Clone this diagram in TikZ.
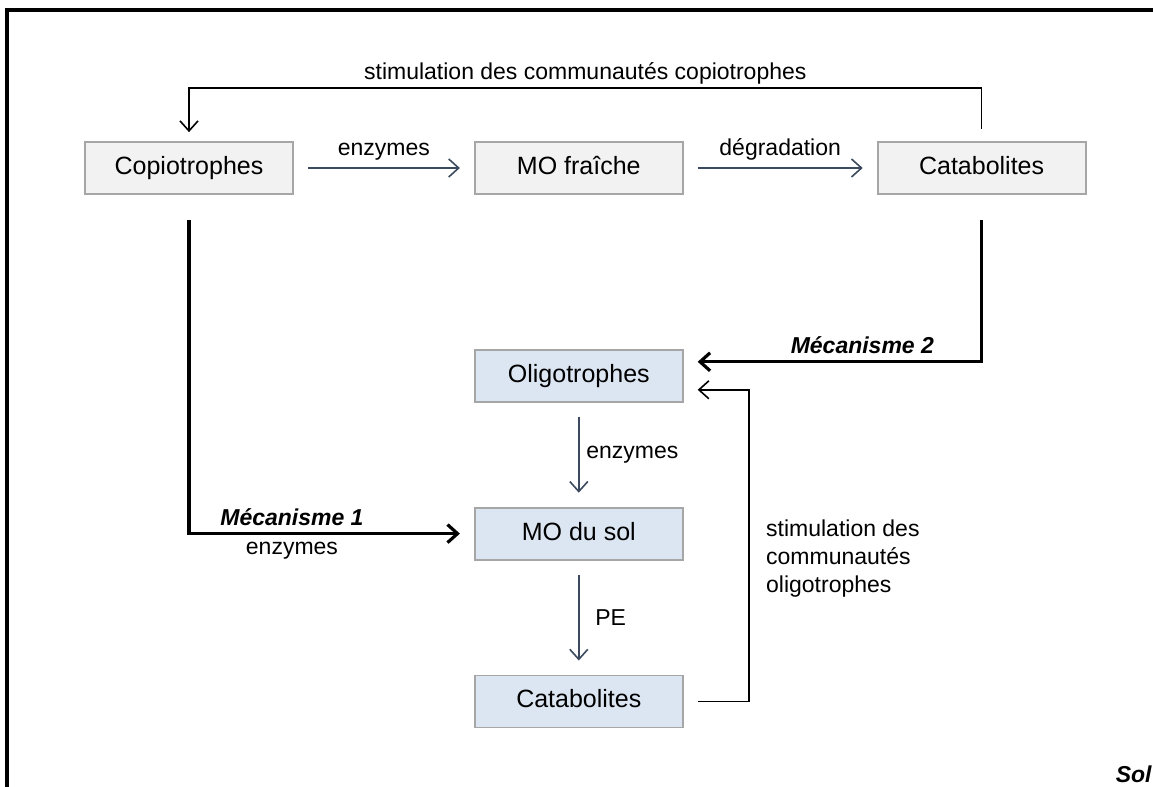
\documentclass[tikz,border=0pt]{standalone}
\usepackage{fontspec}
\setmainfont{Liberation Sans}
\usetikzlibrary{positioning,arrows.meta}
\definecolor{boxgray}{HTML}{F2F2F2}
\definecolor{boxblue}{HTML}{DCE6F2}
\definecolor{edgegray}{HTML}{A6A6A6}
\definecolor{slate}{HTML}{3B4A5E}

\begin{document}
\begin{tikzpicture}[x=0.5pt, y=-0.5pt,
			framed/.style={rectangle, draw=edgegray, line width=0.9pt, minimum width=104pt, minimum height=26pt, inner sep=0, text height=9pt, text depth=2.6pt, font=\fontsize{12.5}{15}\selectfont},
			topbox/.style={framed, fill=boxgray},
			soilbox/.style={framed, fill=boxblue},
			lbl/.style={text=black, font=\fontsize{11.5}{14}\selectfont},
			mech/.style={text=black, font=\fontsize{11.5}{14}\selectfont\bfseries\itshape},
			arrow/.style={line width=0.8pt, slate, -{Straight Barb[length=5pt,width=9pt]}},
			feedback/.style={line width=0.8pt, black, -{Straight Barb[length=5pt,width=9pt]}},
			mechanism/.style={line width=1.6pt, black, -{Straight Barb[length=5pt,width=9pt]}}]

			\useasboundingbox (0,0) rectangle (1153,787);
			\clip (0,0) rectangle (1153,787);
			\draw[line width=2pt] (7,10) rectangle (1175,810);

			\node[topbox] (copio) at (189,168) {Copiotrophes};
			\node[topbox, right=90pt of copio] (moFresh) {MO fraîche};
			\node[topbox, right=96.5pt of moFresh] (cataTop) {Catabolites};

			\node[soilbox, below=77pt of moFresh] (oligo) {Oligotrophes};
			\node[soilbox, below=52pt of oligo] (moSol) {MO du sol};
			\node[soilbox, below=57pt of moSol] (cataBot) {Catabolites};

			\draw[arrow] ([xshift=7pt]copio.east) -- node[lbl, above] {enzymes} ([xshift=-7pt]moFresh.west);
			\draw[arrow] ([xshift=7pt]moFresh.east) -- node[lbl, above] {dégradation} ([xshift=-7pt]cataTop.west);
			\draw[feedback] ([yshift=6pt]cataTop.north) -- ++(0,20.5pt)
				-| node[lbl, above, pos=0.25, inner sep=1.5pt] {stimulation des communautés copiotrophes} ([yshift=4.5pt]copio.north);

			\draw[mechanism] ([yshift=-12.5pt]copio.south)
				|- node[mech, above, pos=0.69] {Mécanisme 1} node[lbl, below, pos=0.69] {enzymes} ([xshift=-7pt]moSol.west);
			\draw[mechanism] ([yshift=-12.5pt]cataTop.south)
				|- node[mech, above, pos=0.71] {Mécanisme 2} ([xshift=7pt, yshift=7pt]oligo.east);

			\draw[arrow] ([yshift=-7pt]oligo.south) -- node[lbl, right] {enzymes} ([yshift=7pt]moSol.north);
			\draw[arrow] ([yshift=-7pt]moSol.south) -- node[lbl, right, xshift=4.5pt] {PE} ([yshift=7pt]cataBot.north);
			\draw[feedback] ([xshift=7pt]cataBot.east) -- ++(25.5pt,0)
				|- node[lbl, right, align=left, pos=0.23, xshift=5pt] {stimulation des\\communautés\\oligotrophes} ([xshift=7pt, yshift=-7pt]oligo.east);

			\node[mech, anchor=east, inner sep=0.5pt] (sol) at (1153,774) {Sol};
		\end{tikzpicture}
\end{document}
